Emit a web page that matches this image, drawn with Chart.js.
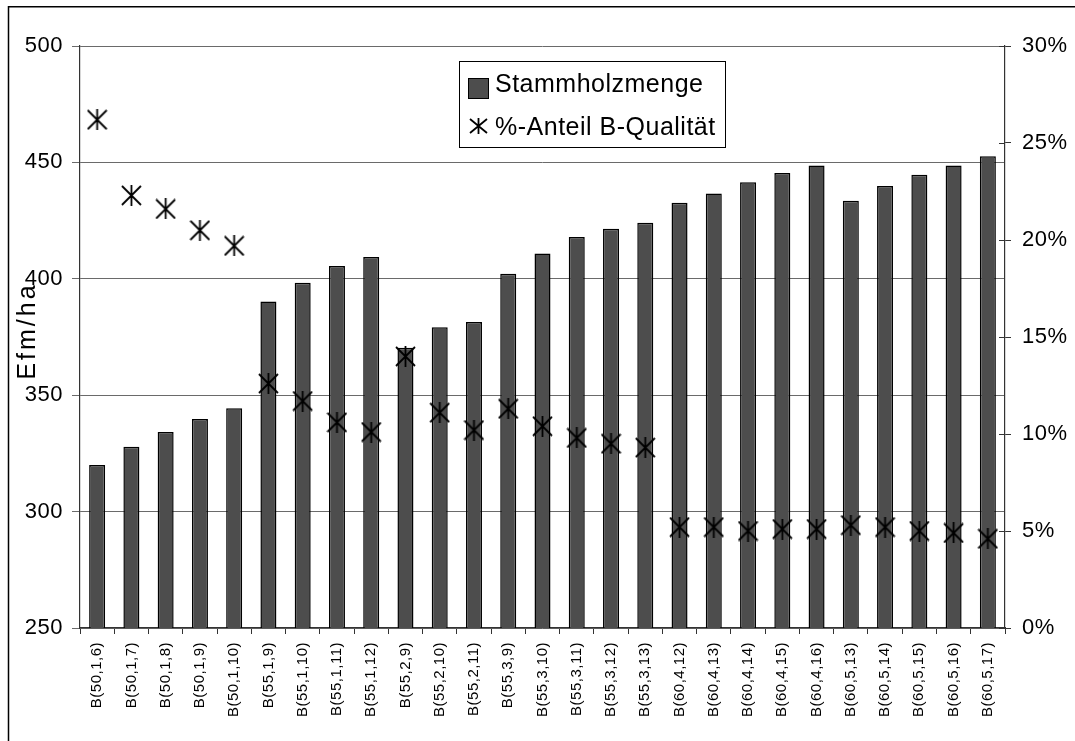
<!DOCTYPE html>
<html>
<head>
<meta charset="utf-8">
<script src="https://cdn.jsdelivr.net/npm/chart.js@4/dist/chart.umd.min.js"></script>
<style>
  html, body { margin: 0; padding: 0; background: #fff; }
  #wrap { position: relative; width: 1075px; height: 741px; }
</style>
</head>
<body>
<div id="wrap"><canvas id="c" width="1075" height="741"></canvas></div>
<script>
const categories = [
  'B(50,1,6)', 'B(50,1,7)', 'B(50,1,8)', 'B(50,1,9)', 'B(50,1,10)',
  'B(55,1,9)', 'B(55,1,10)', 'B(55,1,11)', 'B(55,1,12)',
  'B(55,2,9)', 'B(55,2,10)', 'B(55,2,11)',
  'B(55,3,9)', 'B(55,3,10)', 'B(55,3,11)', 'B(55,3,12)', 'B(55,3,13)',
  'B(60,4,12)', 'B(60,4,13)', 'B(60,4,14)', 'B(60,4,15)', 'B(60,4,16)',
  'B(60,5,13)', 'B(60,5,14)', 'B(60,5,15)', 'B(60,5,16)', 'B(60,5,17)'
];
const stammholzmenge = [
  320, 327.9, 334.2, 339.8, 344.4,
  390.2, 398.3, 405.5, 409.4,
  370.4, 379.2, 381.4,
  402.2, 410.9, 418.0, 421.5, 424.1,
  432.7, 436.6, 441.5, 445.4, 448.7,
  433.5, 439.9, 444.7, 448.7, 452.6
];
const anteilBQualitaet = [
  26.2, 22.3, 21.6, 20.5, 19.7,
  12.6, 11.7, 10.6, 10.1,
  14.0, 11.1, 10.2,
  11.3, 10.4, 9.8, 9.5, 9.3,
  5.2, 5.2, 5.0, 5.1, 5.1,
  5.3, 5.2, 5.0, 4.9, 4.6
];
const seriesLabels = ['Stammholzmenge', '%-Anteil B-Qualität'];
const yTitle = 'Efm/ha';
const leftTicks = { min: 250, max: 500, step: 50 };
const rightTicks = { min: 0, max: 30, step: 5 };

const FONT = "'Liberation Sans', Arial, sans-serif";
const BAR_FILL = '#4d4d4d';
const GRID = '#6a6a6a';

// star marker (vertical line + X)
function makeStar(w, h, lw) {
  const cv = document.createElement('canvas');
  cv.width = w; cv.height = h;
  const g = cv.getContext('2d');
  g.strokeStyle = '#000';
  g.lineWidth = lw;
  g.lineCap = 'butt';
  const m = Math.floor(w / 2) + 0.5, p = 1;
  g.beginPath();
  g.moveTo(p, p); g.lineTo(w - p, h - p);
  g.moveTo(w - p, p); g.lineTo(p, h - p);
  g.moveTo(m, 0); g.lineTo(m, h);
  g.stroke();
  return cv;
}
const starMarker = makeStar(21, 21, 1.8);
const legendStar = makeStar(19, 16, 1.8);

const spacingPlugin = {
  id: 'spacing',
  beforeUpdate(c) { c.ctx.letterSpacing = '0.5px'; },
  beforeLayout(c) { c.ctx.letterSpacing = '0.5px'; },
  beforeDraw(c) { c.ctx.letterSpacing = '0.5px'; }
};

const decorPlugin = {
  id: 'decor',
  afterDraw(c) {
    const ctx = c.ctx;
    const ca = c.chartArea;
    ctx.save();
    // outer frame (left and top edges visible)
    ctx.strokeStyle = '#000';
    ctx.lineWidth = 1.5;
    ctx.beginPath();
    ctx.moveTo(8.5, 741); ctx.lineTo(8.5, 6.75); ctx.lineTo(1075, 6.75);
    ctx.stroke();

    // inner half of crossing tick marks on right axis
    const y1 = c.scales.y1;
    ctx.strokeStyle = '#333';
    ctx.lineWidth = 1;
    ctx.beginPath();
    y1.ticks.forEach(t => {
      const py = Math.round(y1.getPixelForValue(t.value)) + 0.5;
      ctx.moveTo(ca.right - 6, py); ctx.lineTo(ca.right, py);
    });
    ctx.stroke();

    // y axis title
    ctx.letterSpacing = '3px';
    ctx.font = '25px ' + FONT;
    ctx.fillStyle = '#000';
    ctx.translate(35, (ca.top + ca.bottom) / 2 - 6);
    ctx.rotate(-Math.PI / 2);
    ctx.textAlign = 'center';
    ctx.textBaseline = 'alphabetic';
    ctx.fillText(yTitle, 0, 0);
    ctx.restore();

    // legend
    ctx.save();
    const bx = 459, by = 61, bw = 266, bh = 86;
    ctx.fillStyle = '#fff';
    ctx.fillRect(bx, by, bw, bh);
    ctx.strokeStyle = '#000';
    ctx.lineWidth = 1;
    ctx.strokeRect(bx + 0.5, by + 0.5, bw, bh);
    const ds = c.data.datasets;
    ctx.font = '25px ' + FONT;
    ctx.textBaseline = 'alphabetic';
    ctx.textAlign = 'left';
    // item 1: bar swatch
    ctx.fillStyle = ds[0].backgroundColor;
    ctx.fillRect(468, 78, 21, 21);
    ctx.strokeStyle = '#000';
    ctx.strokeRect(468.5, 78.5, 20, 20);
    ctx.fillStyle = '#000';
    ctx.letterSpacing = '0.5px';
    ctx.fillText(ds[0].label, 495, 92);
    // item 2: star
    ctx.drawImage(legendStar, 478 - 9, 126 - 8);
    ctx.fillText(ds[1].label, 495, 135);
    ctx.restore();
  }
};

new Chart(document.getElementById('c'), {
  type: 'bar',
  data: {
    labels: categories,
    datasets: [
      {
        type: 'bar',
        label: seriesLabels[0],
        data: stammholzmenge,
        yAxisID: 'y',
        backgroundColor: BAR_FILL,
        borderColor: '#000',
        borderWidth: 1.5,
        categoryPercentage: 1.0,
        barPercentage: 0.467,
        order: 2
      },
      {
        type: 'line',
        label: seriesLabels[1],
        data: anteilBQualitaet,
        yAxisID: 'y1',
        showLine: false,
        pointStyle: starMarker,
        pointRadius: 10,
        pointHoverRadius: 10,
        borderColor: '#000',
        backgroundColor: '#000',
        order: 1
      }
    ]
  },
  options: {
    responsive: false,
    animation: false,
    layout: { padding: { top: 46, left: 0, right: 0, bottom: 0 } },
    plugins: {
      legend: { display: false },
      tooltip: { enabled: false },
      title: { display: false }
    },
    scales: {
      x: {
        offset: true,
        grid: {
          display: true,
          offset: true,
          drawOnChartArea: false,
          drawTicks: true,
          tickLength: 6,
          color: '#333',
          lineWidth: 1
        },
        border: { display: true, color: '#333', width: 1.2 },
        ticks: {
          autoSkip: false,
          maxRotation: 90,
          minRotation: 90,
          padding: 8,
          color: '#000',
          font: { family: FONT, size: 15 }
        },
        afterFit(s) { s.height = 113; }
      },
      y: {
        position: 'left',
        min: leftTicks.min,
        max: leftTicks.max,
        grid: {
          color: GRID,
          lineWidth: 1,
          drawTicks: true,
          tickLength: 8
        },
        border: { display: true, color: '#333', width: 1.2 },
        ticks: {
          stepSize: leftTicks.step,
          padding: 9,
          color: '#000',
          font: { family: FONT, size: 22 }
        },
        afterFit(s) { s.width = 80; }
      },
      y1: {
        position: 'right',
        min: rightTicks.min,
        max: rightTicks.max,
        grid: {
          drawOnChartArea: false,
          drawTicks: true,
          tickLength: 6,
          color: '#333'
        },
        border: { display: true, color: '#333', width: 1.2 },
        ticks: {
          stepSize: rightTicks.step,
          padding: 11,
          color: '#000',
          font: { family: FONT, size: 22 },
          callback: v => v + '%'
        },
        afterFit(s) { s.width = 70; }
      }
    }
  },
  plugins: [spacingPlugin, decorPlugin]
});
</script>
</body>
</html>
